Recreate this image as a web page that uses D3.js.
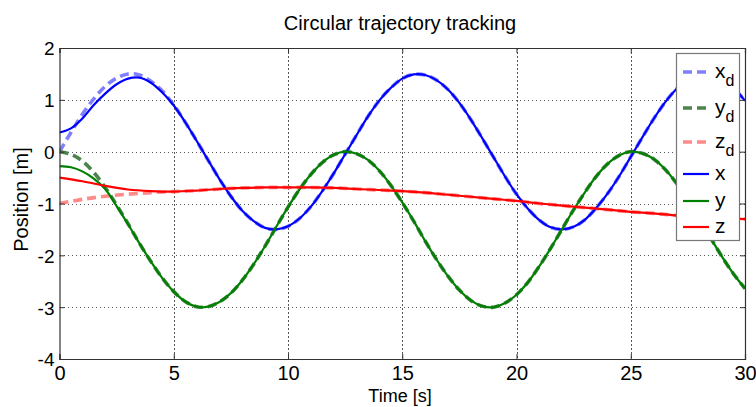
<!DOCTYPE html>
<html>
<head>
<meta charset="utf-8">
<script src="https://cdn.jsdelivr.net/npm/d3@7"></script>
<style>
  body { margin: 0; background: #fff; }
  svg text { font-family: "Liberation Sans", Arial, sans-serif; fill: #000; }
</style>
</head>
<body>
<svg id="chart" width="756" height="407"></svg>
<script>
// time stamps (s), one sample every 0.5 s
const time = d3.range(61).map((i) => i / 2)
// z is sampled every 1 s
const timeZ = d3.range(31)

// values
const xd = [0, 0.37, 0.72, 1.02, 1.26, 1.42, 1.5, 1.48, 1.36, 1.17, 0.9, 0.57, 0.21, -0.16, -0.53, -0.86,
  -1.14, -1.34, -1.47, -1.5, -1.44, -1.29, -1.06, -0.76, -0.42, -0.05, 0.32, 0.68, 0.99, 1.23, 1.41,
  1.49, 1.48, 1.38, 1.2, 0.94, 0.62, 0.26, -0.11, -0.48, -0.82, -1.1, -1.32, -1.46, -1.5, -1.45,
  -1.31, -1.08, -0.8, -0.47, -0.1, 0.27, 0.63, 0.95, 1.21, 1.39, 1.49, 1.49, 1.4, 1.23, 0.98]
const yd = [0, -0.05, -0.18, -0.4, -0.69, -1.03, -1.39, -1.77, -2.12, -2.44, -2.7, -2.89, -2.99, -2.99,
  -2.9, -2.73, -2.48, -2.17, -1.82, -1.44, -1.07, -0.73, -0.44, -0.21, -0.06, 0, -0.04, -0.16, -0.37,
  -0.65, -0.98, -1.34, -1.72, -2.08, -2.4, -2.67, -2.87, -2.98, -3, -2.92, -2.76, -2.52, -2.21, -1.86,
  -1.49, -1.12, -0.78, -0.47, -0.23, -0.07, 0, -0.03, -0.14, -0.34, -0.61, -0.93, -1.3, -1.67, -2.03,
  -2.36, -2.64]
const zd = [-1, -0.92, -0.86, -0.82, -0.79, -0.77, -0.75, -0.72, -0.7, -0.69, -0.69, -0.69, -0.7, -0.72,
  -0.74, -0.76, -0.79, -0.83, -0.87, -0.91, -0.95, -1, -1.04, -1.08, -1.12, -1.16, -1.19, -1.23,
  -1.26, -1.28, -1.3]
const xAct = [0.37, 0.45, 0.64, 0.9, 1.12, 1.3, 1.41, 1.43, 1.33, 1.14, 0.89, 0.57, 0.21, -0.16, -0.53,
  -0.86, -1.14, -1.34, -1.47, -1.5, -1.44, -1.29, -1.06, -0.76, -0.42, -0.05, 0.32, 0.68, 0.99, 1.23,
  1.41, 1.49, 1.48, 1.38, 1.2, 0.94, 0.62, 0.26, -0.11, -0.48, -0.82, -1.1, -1.32, -1.46, -1.5, -1.45,
  -1.31, -1.08, -0.8, -0.47, -0.1, 0.27, 0.63, 0.95, 1.21, 1.39, 1.49, 1.49, 1.4, 1.23, 0.98]
const yAct = [-0.28, -0.3, -0.38, -0.52, -0.72, -1.05, -1.4, -1.77, -2.12, -2.44, -2.7, -2.89, -2.99,
  -2.99, -2.9, -2.73, -2.48, -2.17, -1.82, -1.44, -1.07, -0.73, -0.44, -0.21, -0.06, 0, -0.04, -0.16,
  -0.37, -0.65, -0.98, -1.34, -1.72, -2.08, -2.4, -2.67, -2.87, -2.98, -3, -2.92, -2.76, -2.52, -2.21,
  -1.86, -1.49, -1.12, -0.78, -0.47, -0.23, -0.07, 0, -0.03, -0.14, -0.34, -0.61, -0.93, -1.3, -1.67,
  -2.03, -2.36, -2.64]
const zAct = [-0.5, -0.57, -0.66, -0.73, -0.76, -0.77, -0.75, -0.72, -0.7, -0.69, -0.69, -0.69, -0.7,
  -0.72, -0.74, -0.76, -0.79, -0.83, -0.87, -0.91, -0.95, -1, -1.04, -1.08, -1.12, -1.16, -1.19, -1.23,
  -1.26, -1.28, -1.3]

const xTicks = [0, 5, 10, 15, 20, 25, 30]
const yTicks = [-4, -3, -2, -1, 0, 1, 2]

const series = [
  { name: 'x', sub: 'd', t: time, v: xd, color: '#8080ff', dash: true },
  { name: 'y', sub: 'd', t: time, v: yd, color: '#4d844d', dash: true },
  { name: 'z', sub: 'd', t: timeZ, v: zd, color: '#ff8a8a', dash: true },
  { name: 'x', sub: '', t: time, v: xAct, color: '#0000ff', dash: false },
  { name: 'y', sub: '', t: time, v: yAct, color: '#008000', dash: false },
  { name: 'z', sub: '', t: timeZ, v: zAct, color: '#ff0000', dash: false }
]

const svg = d3.select('#chart')
const pLeft = 59.5, pRight = 745, pTop = 48, pBottom = 359
const FONT = '"Liberation Sans", Arial, sans-serif'

const x = d3.scaleLinear().domain([0, 30]).range([pLeft, pRight])
const y = d3.scaleLinear().domain([-4, 2]).range([pBottom, pTop])

svg.append('clipPath').attr('id', 'clip')
  .append('rect').attr('x', pLeft).attr('y', pTop)
  .attr('width', pRight - pLeft).attr('height', pBottom - pTop)

// grid
const grid = svg.append('g').attr('stroke', '#555').attr('stroke-width', 1)
  .attr('stroke-dasharray', '1.5,2.5').attr('shape-rendering', 'crispEdges')
grid.selectAll('.gx').data(xTicks.slice(1, -1)).join('line').attr('class', 'gx')
  .attr('x1', (d) => Math.round(x(d)) + 0.5).attr('x2', (d) => Math.round(x(d)) + 0.5)
  .attr('y1', pTop).attr('y2', pBottom)
grid.selectAll('.gy').data(yTicks.slice(1, -1)).join('line').attr('class', 'gy')
  .attr('y1', (d) => Math.round(y(d)) + 0.5).attr('y2', (d) => Math.round(y(d)) + 0.5)
  .attr('x1', pLeft).attr('x2', pRight)

// curves
const line = d3.line().curve(d3.curveCatmullRom)
const plot = svg.append('g').attr('clip-path', 'url(#clip)').attr('fill', 'none')
plot.selectAll('path').data(series).join('path')
  .attr('d', (s) => line(s.t.map((t, i) => [x(t), y(s.v[i])])))
  .attr('stroke', (s) => s.color)
  .attr('stroke-width', (s) => (s.dash ? 3.6 : 2.2))
  .attr('stroke-dasharray', (s) => (s.dash ? '9,5' : null))

// axes box
const fmt = (d) => String(d)
const axX = svg.append('g').attr('transform', `translate(0,${pBottom})`)
  .call(d3.axisBottom(x).tickValues(xTicks).tickSize(-5).tickPadding(7).tickFormat(fmt))
const axY = svg.append('g').attr('transform', `translate(${pLeft},0)`)
  .call(d3.axisLeft(y).tickValues(yTicks).tickSize(-5).tickPadding(5).tickFormat(fmt))
const axT = svg.append('g').attr('transform', `translate(0,${pTop})`)
  .call(d3.axisTop(x).tickValues(xTicks).tickSize(-5).tickFormat(''))
const axR = svg.append('g').attr('transform', `translate(${pRight},0)`)
  .call(d3.axisRight(y).tickValues(yTicks).tickSize(-5).tickFormat(''))
;[axX, axY, axT, axR].forEach((a) => {
  a.select('.domain').attr('stroke', '#333').attr('stroke-width', 1.2)
  a.selectAll('.tick line').attr('stroke', '#333')
  a.selectAll('text').style('font-family', FONT)
})
axX.selectAll('text').attr('dy', '0.71em').style('font-size', '20px')
axY.selectAll('text').attr('dy', '0.36em').style('font-size', '19px')

// titles
svg.append('text').attr('x', 400).attr('y', 30).attr('text-anchor', 'middle')
  .style('font-size', '20px').text('Circular trajectory tracking')
svg.append('text').attr('x', 400).attr('y', 402).attr('text-anchor', 'middle')
  .style('font-size', '18px').text('Time [s]')
svg.append('text').attr('transform', `translate(28,${(pTop + pBottom) / 2 - 4}) rotate(-90)`)
  .attr('text-anchor', 'middle').style('font-size', '20px').text('Position [m]')

// legend
const legend = svg.append('g')
legend.append('rect').attr('x', 676.5).attr('y', 53.5).attr('width', 63).attr('height', 187)
  .attr('fill', '#fff').attr('stroke', '#777').attr('stroke-width', 1.2)
const rowY = [72, 108, 142, 174, 201, 227]
const rows = legend.selectAll('.row').data(series).join('g').attr('class', 'row')
  .attr('transform', (d, i) => `translate(0,${rowY[i]})`)
rows.append('line').attr('x1', 683).attr('x2', 709)
  .attr('stroke', (s) => s.color)
  .attr('stroke-width', (s) => (s.dash ? 3.6 : 2.2))
  .attr('stroke-dasharray', (s) => (s.dash ? '9,5' : null))
const lt = rows.append('text').attr('x', 715).attr('y', 0).attr('dy', '0.3em')
  .style('font-size', '21px')
lt.append('tspan').text((s) => s.name)
lt.append('tspan').attr('dy', 8).style('font-size', '16px').text((s) => s.sub)
</script>
</body>
</html>
